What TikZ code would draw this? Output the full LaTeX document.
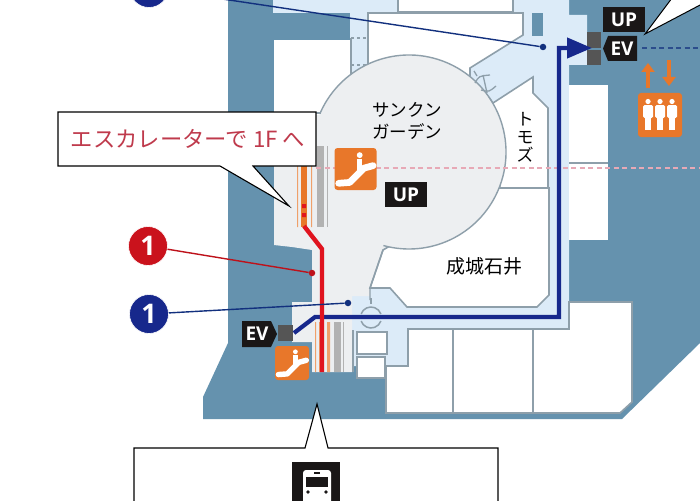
\documentclass[tikz,border=0pt]{standalone}
\usepackage{fontspec}
\setmainfont{Open Sans}
\newfontfamily\jpfont{Noto Sans CJK JP}
\usetikzlibrary{arrows.meta}
\definecolor{wallblue}{HTML}{6592AE}
\definecolor{floorblue}{HTML}{DCEBF8}
\definecolor{floorgrey}{HTML}{EDEFF1}
\definecolor{roomline}{HTML}{8E9FAA}
\definecolor{routeblue}{HTML}{17288C}
\definecolor{leadblue}{HTML}{12307E}
\definecolor{routered}{HTML}{E0141F}
\definecolor{signorange}{HTML}{E8772A}
\definecolor{liftgrey}{HTML}{555555}
\definecolor{signblack}{HTML}{1A1717}
\definecolor{notered}{HTML}{BF3A4C}
\definecolor{dashpink}{HTML}{E7A9B6}
\tikzset{
	room/.style={fill=white,draw=roomline,line width=1.6pt},
	liftsq/.style={fill=liftgrey,draw=none},
	signlabel/.style={fill=signblack,text=white,inner sep=0pt,font=\bfseries\fontsize{19}{20}\selectfont},
	plantext/.style={inner sep=0pt,font=\jpfont\fontsize{17.5}{22}\selectfont,align=center},
	numdisc/.style={circle,minimum size=39pt,inner sep=0pt,text=white,draw=white,line width=0.6pt,font=\bfseries\fontsize{27}{27}\selectfont},
	leaddot/.style={circle,minimum size=6.5pt,inner sep=0pt},
	callout/.style={fill=white,draw=black,line width=1.1pt},
	escicon/.pic={
		\fill[signorange,rounded corners=3pt] (0,0) rectangle (1,1);
		\draw[white,line width=0.16*\pgfkeysvalueof{/tikz/iconsize},line cap=round,line join=round] (0.1,0.84) -- (0.36,0.82) -- (0.7,0.48) -- (0.92,0.42);
		\fill[white] (0.6,0.17) circle (0.07);
		\draw[white,line width=0.13*\pgfkeysvalueof{/tikz/iconsize}] (0.6,0.27) -- (0.6,0.52);
	},
	iconsize/.initial=40pt
}
\begin{document}
\begin{tikzpicture}[x=1pt,y=-1pt]
	\useasboundingbox (0,0) rectangle (700,500);
	\clip (0,0) rectangle (700,500);
	\fill[white] (0,0) rectangle (700,500);
	% walls
	\fill[wallblue] (228,0) -- (228,343) -- (203,397) -- (203,419) -- (622,419) -- (700,343) -- (700,0) -- cycle;
	% floors
	\fill[floorblue] (273,0) -- (569,0) -- (569,15) -- (587,15) -- (587,65) -- (569,65) -- (569,329) -- (408,329) -- (408,366) -- (352,366) -- (352,288) -- (350,288) -- (350,13) -- (273,13) -- cycle;
	% rooms
	\fill[white] (274,40) -- (351,40) -- (351,115) -- (274,115) -- cycle;
	\draw[room] (398,-2) -- (398,12) -- (513,12) -- (513,-2);
	\draw[room] (368,70) -- (368,13) -- (523,13) -- (523,35) -- (470,68) -- (470,80) -- cycle;
	\draw[roomline,line width=1.4pt] (351,38) -- (351,83);
	\draw[roomline,line width=1.4pt,dashed] (351,38) -- (368,38) (351,65) -- (368,65);
	\fill[wallblue] (532,13) rectangle (543,36);
	\fill[white] (569,85) rectangle (608,240);
	\draw[roomline,line width=1.4pt] (569,163) -- (608,163);
	\draw[room] (386,366) -- (386,413) -- (620,413) -- (632,402) -- (632,302) -- (569,302) -- (569,329) -- (408,329) -- (408,366) -- cycle;
	\draw[roomline,line width=1.6pt] (453,329) -- (453,413) (533,329) -- (533,413);
	% garden and lower floor
	\fill[floorgrey] (274,115) -- (400,115) -- (400,247) -- (383,250) -- (370,288) -- (370,296) -- (352,296) -- (352,372) -- (312,372) -- (312,342) -- (292,342) -- (292,302) -- (312,302) -- (312,250) -- (292,247) -- (274,245) -- cycle;
	\draw[room] (493,103) -- (533,77) -- (533,93) -- (548,108) -- (548,188) -- (500,188) -- cycle;
	\draw[room] (370,288) -- (390,288) -- (407,307) -- (537,307) -- (549,295) -- (549,188) -- (490,188) -- (383,250) -- cycle;
	\fill[floorgrey] (409,152) circle (97);
	\draw[roomline,line width=1.4pt] (409,152) ++(203.8:97) arc[start angle=203.8,end angle=465.3,radius=97];
	\draw[roomline,line width=1.4pt] (383,250) -- (370,288) -- (370,300);
	\draw[roomline,line width=1.4pt] (316,113) -- (321,113);
	% revolving door and lobby door
	\draw[roomline,line width=1.3pt] (474,71) -- (477,76) (489,97) -- (493,103) (475,83) .. controls (479,76) .. (490,75) (481,90) .. controls (489,92) .. (496,86) (483,75) -- (487,93);
	\draw[roomline,line width=1.5pt] (371,317.5) ++(200:10.5) arc[start angle=200,end angle=340,radius=10.5];
	\draw[roomline,line width=1.5pt] (371,317.5) ++(160:10.5) arc[start angle=160,end angle=20,radius=10.5];
	\draw[roomline,line width=2pt] (371,298) -- (371,304);
	% small rooms
	\draw[room] (357,332) rectangle (387,354);
	\draw[room] (357,357) rectangle (385,378);
	\draw[roomline,line width=1.4pt] (353,330) -- (353,372);
	% escalators
	\fill[signorange] (301,146) rectangle (307,227);
	\fill[signorange!70!white] (297,146) rectangle (298.2,227) (311,146) rectangle (312.2,227);
	\fill[gray!60] (317,146) rectangle (324,227);
	\fill[gray!60] (327,146) rectangle (328.2,227);
	\fill[signorange!70!white] (315,322) rectangle (316,372) (319,322) rectangle (320,372) (327,322) rectangle (330,372);
	\fill[gray!60] (334,322) rectangle (341,372);
	\fill[gray!60] (343,322) rectangle (344,372);
	% dashed lines
	\draw[dash pattern=on 5pt off 3.5pt,line width=1.2pt,color=dashpink] (316,168) -- (700,168);
	\draw[dash pattern=on 5pt off 3.5pt,line width=1.1pt,color=leadblue!70!wallblue] (642,48) -- (700,48);
	% lifts and signs
	\node[liftsq,minimum width=14pt,minimum height=16pt,inner sep=0pt] (liftA) at (593.5,40) {};
	\node[liftsq,minimum width=14pt,minimum height=15pt,inner sep=0pt] (liftB) at (593.5,57.5) {};
	\node[liftsq,minimum width=15pt,minimum height=16pt,inner sep=0pt] (liftC) at (285.5,333) {};
	\node[signlabel,minimum width=42pt,minimum height=25pt] (upTop) at (624,19.5) {UP};
	\fill[signblack] (603,48.5) -- (608,36) -- (637,36) -- (637,61) -- (608,61) -- cycle;
	\node[signlabel,text=white,fill=none] (evTop) at (622,48.5) {EV};
	\fill[signblack] (277,334) -- (271,321) -- (242,321) -- (242,347) -- (271,347) -- cycle;
	\node[signlabel,fill=none] (evLow) at (257,334) {EV};
	\node[signlabel,minimum width=42pt,minimum height=25pt] (upMid) at (406,194.5) {UP};
	\pic[scale=42,iconsize=42pt] at (334.5,148) {escicon};
	\pic[scale=34,iconsize=34pt] at (275,346) {escicon};
	% lift people
	\draw[-{Triangle[length=9pt,width=13pt]},signorange,line width=3.2pt] (648,88) -- (648,63);
	\draw[-{Triangle[length=9pt,width=13pt]},signorange,line width=3.2pt] (669,60) -- (669,86);
	\fill[signorange,rounded corners=3pt] (638,93) rectangle (682,137);
	\foreach \px in {648,660,672}{
		\fill[white] (\px,101.5) circle (2.6);
		\fill[white,rounded corners=1.5pt] (\px-5,105) rectangle (\px+5,118);
		\fill[white] (\px-3,116) rectangle (\px+3,130);
	}
	% routes
	\fill[routered] (302,204) rectangle (306,208) (302,213) rectangle (306,217);
	\coordinate (redStart) at (304,226);
	\coordinate (redBend) at (322,249);
	\coordinate (redEnd) at (322,372);
	\coordinate (blueStart) at (294,333);
	\coordinate (blueBendA) at (315,317);
	\coordinate (blueBendB) at (559,317);
	\coordinate (blueBendC) at (559,48);
	\coordinate (blueEnd) at (592,48);
	\draw[routeblue,line width=4.2pt,-{Triangle[length=25pt,width=20pt]}] (blueStart) -- (blueBendA) -- (blueBendB) -- (blueBendC) -- (blueEnd);
	\draw[routered,line width=4.4pt] (redStart) -- (redBend) -- (redEnd);
	% number discs
	\node[leaddot,fill=routered!85!black] (dotRed) at (312,273) {};
	\node[leaddot,fill=leadblue] (dotBlueLow) at (348,303) {};
	\node[leaddot,fill=leadblue] (dotBlueTop) at (543,47) {};
	\node[numdisc,fill=routered!90!black] (numRed) at (148,246) {1};
	\node[numdisc,fill=routeblue] (numBlueLow) at (149,314) {1};
	\node[numdisc,fill=routeblue] (numBlueTop) at (149,-12) {};
	\draw[routered!85!black,line width=1.4pt] (numRed) -- (dotRed);
	\draw[leadblue,line width=1.4pt] (numBlueLow) -- (dotBlueLow);
	\draw[leadblue,line width=1.4pt] (numBlueTop) -- (dotBlueTop);
	% plan labels
	\node[plantext] (garden) at (407,121) {サンクン\\ガーデン};
	\node[plantext,font=\jpfont\fontsize{17}{18}\selectfont] (tomods) at (525,137) {ト\\モ\\ズ};
	\node[plantext,font=\jpfont\fontsize{19}{22}\selectfont] (seijo) at (484,266) {成城石井};
	% callouts
	\draw[callout] (58,112) -- (316,112) -- (316,166) -- (253,166) -- (289,206) -- (220,166) -- (58,166) -- cycle;
	\node[inner sep=0pt,text=notered,font=\jpfont\fontsize{22.3}{24}\selectfont] (escNote) at (188,139) {エスカレーターで 1F へ};
	\fill[white,draw=black,line width=1pt] (645,34) -- (672,-2) -- (702,-2) -- (702,4) -- cycle;
	\draw[callout] (134,502) -- (134,448) -- (305,448) -- (317,404) -- (328,448) -- (498,448) -- (498,502);
	% bus sign
	\fill[signblack] (292,462) rectangle (340,505);
	\fill[white,rounded corners=3pt] (303,470) rectangle (331,505);
	\fill[signblack] (306,477) rectangle (328,487);
	\fill[signblack] (314,472) rectangle (320,474);
	\fill[signblack] (308,492) circle (1.8) (326,492) circle (1.8);
\end{tikzpicture}
\end{document}
